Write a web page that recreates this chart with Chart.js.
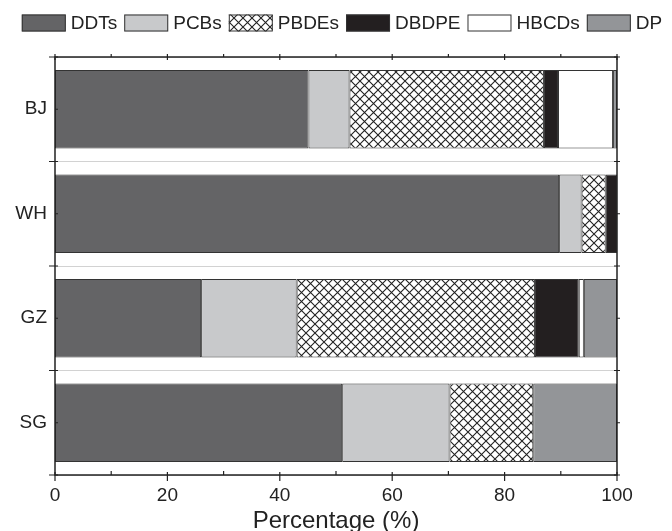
<!DOCTYPE html>
<html>
<head>
<meta charset="utf-8">
<script src="https://cdn.jsdelivr.net/npm/chart.js@4.4.1/dist/chart.umd.min.js"></script>
<style>
  html, body { margin: 0; padding: 0; background: #fff; }
  #wrap { width: 672px; height: 531px; }
</style>
</head>
<body>
<div id="wrap"><canvas id="chartPersen"></canvas></div>
<script>
// data (percent of total)
const cities = ["BJ", "WH", "GZ", "SG"];
const ddts  = [45.1, 89.7, 26.0, 51.1];
const pcbs  = [7.3, 4.0, 17.0, 19.1];
const pbdes = [34.6, 4.3, 42.4, 14.9];
const dbdpe = [2.5, 2.0, 7.8, null];
const hbcds = [9.8, null, 0.9, null];
const dp    = [0.7, null, 5.9, 14.9];
const xTicks = [0, 20, 40, 60, 80, 100];

const FONT = "'Liberation Sans', Arial, sans-serif";

// crosshatch for PBDEs
function bikinPola() {
    const c = document.createElement("canvas");
    c.width = 9; c.height = 9;
    const g = c.getContext("2d");
    g.fillStyle = "#fff";
    g.fillRect(0, 0, 9, 9);
    g.strokeStyle = "#222";
    g.lineWidth = 1.1;
    g.beginPath();
    g.moveTo(0, 0); g.lineTo(9, 9);
    g.moveTo(9, 0); g.lineTo(0, 9);
    g.stroke();
    return g.createPattern(c, "repeat");
}
const ctx = document.getElementById("chartPersen").getContext("2d");
const hatch = bikinPola();

function seri(label, data, warna) {
    return {
        label: label,
        data: data,
        backgroundColor: warna,
        borderColor: "#333333",
        borderWidth: 1,
        borderSkipped: false,
        categoryPercentage: 0.75,
        barPercentage: 1.0,
    };
}

// legend in one row across the top (built-in one wraps because of the right padding)
const legendAtas = {
    id: "legendAtas",
    afterDraw(chart) {
        const g = chart.ctx;
        const ds = chart.data.datasets;
        const kotakW = 44, kotakH = 17, celah = 5, antar = 7;
        g.save();
        g.font = "19px " + FONT;
        let total = 0;
        ds.forEach(function (d, i) {
            total += kotakW + celah + g.measureText(d.label).width;
            if (i < ds.length - 1) total += antar;
        });
        let x = 342 - total / 2;
        const yTengah = 23;
        g.textBaseline = "middle";
        ds.forEach(function (d) {
            g.fillStyle = d.backgroundColor;
            g.fillRect(x, yTengah - kotakH / 2, kotakW, kotakH);
            g.strokeStyle = "#333";
            g.lineWidth = 1;
            g.strokeRect(x + 0.5, yTengah - kotakH / 2 + 0.5, kotakW - 1, kotakH - 1);
            x += kotakW + celah;
            g.fillStyle = "#222";
            g.fillText(d.label, x, yTengah + 1);
            x += g.measureText(d.label).width + antar;
        });
        g.restore();
    },
};

// frame + small tick marks like the original axes
const bingkai = {
    id: "bingkai",
    afterDraw(chart) {
        const a = chart.chartArea;
        const x = chart.scales.x;
        const y = chart.scales.y;
        const g = chart.ctx;
        g.save();
        g.strokeStyle = "#222";
        g.lineWidth = 1.5;
        g.strokeRect(a.left, a.top, a.right - a.left, a.bottom - a.top);
        g.lineWidth = 1.2;
        g.beginPath();
        for (let v = 0; v <= 100; v += 10) {
            const px = x.getPixelForValue(v);
            if (v % 20 === 0) {
                g.moveTo(px, a.bottom - 3); g.lineTo(px, a.bottom + 6);
                g.moveTo(px, a.top - 3); g.lineTo(px, a.top + 3);
            } else {
                g.moveTo(px, a.bottom); g.lineTo(px, a.bottom - 4);
                g.moveTo(px, a.top); g.lineTo(px, a.top - 3);
            }
        }
        const n = cities.length;
        const band = (a.bottom - a.top) / n;
        for (let i = 0; i <= n; i++) {
            const py = a.top + band * i;
            g.moveTo(a.left - 6, py); g.lineTo(a.left + 3, py);
            g.moveTo(a.right - 3, py); g.lineTo(a.right + 3, py);
        }
        cities.forEach(function (c, i) {
            const py = y.getPixelForValue(i);
            g.moveTo(a.left, py); g.lineTo(a.left + 3, py);
            g.moveTo(a.right, py); g.lineTo(a.right + 3, py);
        });
        g.stroke();
        g.restore();
    },
};

new Chart(ctx, {
    type: "bar",
    data: {
        labels: cities,
        datasets: [
            seri("DDTs", ddts, "#646466"),
            seri("PCBs", pcbs, "#c8c9cb"),
            seri("PBDEs", pbdes, hatch),
            seri("DBDPE", dbdpe, "#231f20"),
            seri("HBCDs", hbcds, "#ffffff"),
            seri("DP", dp, "#939598"),
        ],
    },
    options: {
        indexAxis: "y",
        responsive: true,
        maintainAspectRatio: false,
        animation: false,
        layout: { padding: { top: 57, left: 0, right: 55, bottom: 0 } },
        plugins: {
            tooltip: { enabled: false },
            legend: { display: false },
        },
        scales: {
            x: {
                stacked: true,
                min: 0,
                max: 100,
                afterBuildTicks(s) { s.ticks = xTicks.map(function (v) { return { value: v }; }); },
                afterFit(s) { s.height = 56; },
                grid: { display: false },
                border: { display: false },
                ticks: {
                    padding: 1,
                    color: "#222",
                    font: { family: FONT, size: 19 },
                },
                title: {
                    display: true,
                    text: "Percentage (%)",
                    color: "#222",
                    padding: { top: 0, bottom: -5 },
                    font: { family: FONT, size: 24 },
                },
            },
            y: {
                stacked: true,
                afterFit(s) { s.width = 55; },
                grid: { offset: true, color: "#d2d2d2", lineWidth: 1, drawTicks: false },
                border: { display: false },
                ticks: {
                    padding: 8,
                    color: "#222",
                    font: { family: FONT, size: 19 },
                },
            },
        },
    },
    plugins: [legendAtas, bingkai],
});
</script>
</body>
</html>
